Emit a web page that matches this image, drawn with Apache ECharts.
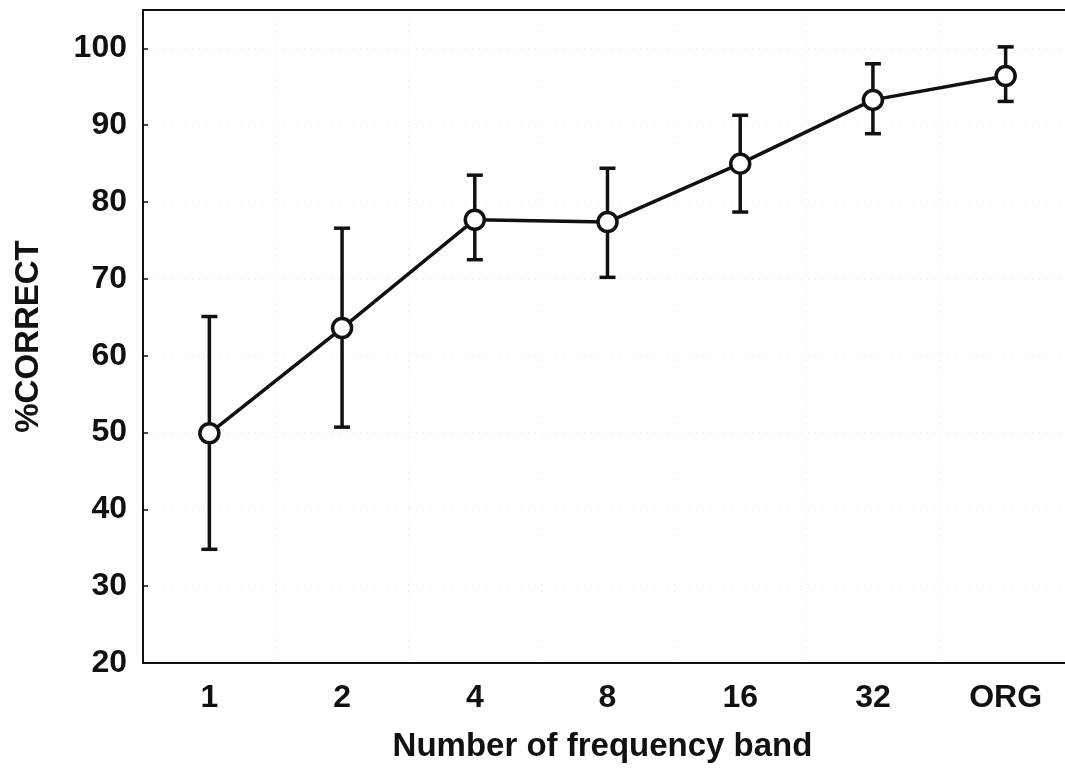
<!DOCTYPE html>
<html>
<head>
<meta charset="utf-8">
<script src="https://cdn.jsdelivr.net/npm/echarts@6/dist/echarts.min.js"></script>
<style>
  html, body { margin: 0; padding: 0; background: #fff; }
  #chart { width: 1065px; height: 770px; }
</style>
</head>
<body>
<div id="chart"></div>
<script>
const categories = ['1', '2', '4', '8', '16', '32', 'ORG'];
const meanCorrect = [49.9, 63.6, 77.7, 77.4, 85.0, 93.3, 96.4];
const upperBound = [65.1, 76.6, 83.5, 84.4, 91.3, 98.0, 100.2];
const lowerBound = [34.8, 50.7, 72.5, 70.2, 78.7, 88.9, 93.1];

const FONT = '"Liberation Sans", Arial, sans-serif';
const INK = '#111';

const chart = echarts.init(document.getElementById('chart'));

// error bar: vertical stem + caps, positioned via the axis scales
const errorData = categories.map((c, i) => [i, lowerBound[i], upperBound[i]]);

function renderErrorBar(params, api) {
  const lo = api.coord([api.value(0), api.value(1)]);
  const hi = api.coord([api.value(0), api.value(2)]);
  const half = 8;
  const style = { stroke: INK, lineWidth: 3.5 };
  return {
    type: 'group',
    children: [
      { type: 'line', shape: { x1: hi[0], y1: hi[1], x2: lo[0], y2: lo[1] }, style },
      { type: 'line', shape: { x1: hi[0] - half, y1: hi[1], x2: hi[0] + half, y2: hi[1] }, style },
      { type: 'line', shape: { x1: lo[0] - half, y1: lo[1], x2: lo[0] + half, y2: lo[1] }, style },
    ],
  };
}

const option = {
  backgroundColor: '#fff',
  animation: false,
  // plot runs past the right edge of the picture (no right border visible)
  grid: { left: 143, right: -7, top: 10, bottom: 107, outerBoundsMode: 'none' },
  xAxis: [
    {
      type: 'category',
      data: categories,
      position: 'bottom',
      name: 'Number of frequency band',
      nameLocation: 'middle',
      nameGap: 67,
      nameTextStyle: {
        fontFamily: FONT, fontWeight: 'bold', fontSize: 33, color: INK,
        padding: [0, 10, 0, 0],
      },
      axisLine: { lineStyle: { color: INK, width: 2 } },
      axisTick: { inside: true, alignWithLabel: true, length: 5, lineStyle: { color: INK, width: 1.5 } },
      axisLabel: { fontFamily: FONT, fontWeight: 'bold', fontSize: 32, color: INK, margin: 19 },
      splitLine: { show: true, lineStyle: { color: '#e6e6e6', type: [1, 6], width: 1 } },
    },
    {
      type: 'category',
      data: categories,
      position: 'top',
      axisLine: { lineStyle: { color: INK, width: 2 } },
      axisTick: { inside: true, alignWithLabel: true, length: 5, lineStyle: { color: INK, width: 1.5 } },
      axisLabel: { show: false },
      splitLine: { show: false },
    },
  ],
  yAxis: {
    type: 'value',
    min: 20,
    max: 105,
    interval: 10,
    name: '%CORRECT',
    nameLocation: 'middle',
    nameGap: 98,
    nameRotate: 90,
    nameTextStyle: { fontFamily: FONT, fontWeight: 'bold', fontSize: 33, color: INK },
    axisLine: { show: true, lineStyle: { color: INK, width: 2 } },
    axisTick: { show: true, inside: true, length: 5, lineStyle: { color: INK, width: 1.5 } },
    axisLabel: { fontFamily: FONT, fontWeight: 'bold', fontSize: 32, color: INK, margin: 16, showMaxLabel: false },
    splitLine: { show: true, lineStyle: { color: '#e6e6e6', type: [1, 6], width: 1 } },
  },
  series: [
    {
      type: 'custom',
      name: 'error',
      data: errorData,
      renderItem: renderErrorBar,
      encode: { x: 0, y: [1, 2] },
      z: 2,
    },
    {
      type: 'line',
      name: '%CORRECT',
      data: meanCorrect,
      symbol: 'circle',
      symbolSize: 19,
      lineStyle: { color: INK, width: 3.5 },
      itemStyle: { color: '#fff', borderColor: INK, borderWidth: 3.5 },
      z: 3,
    },
  ],
};

chart.setOption(option);
</script>
</body>
</html>
